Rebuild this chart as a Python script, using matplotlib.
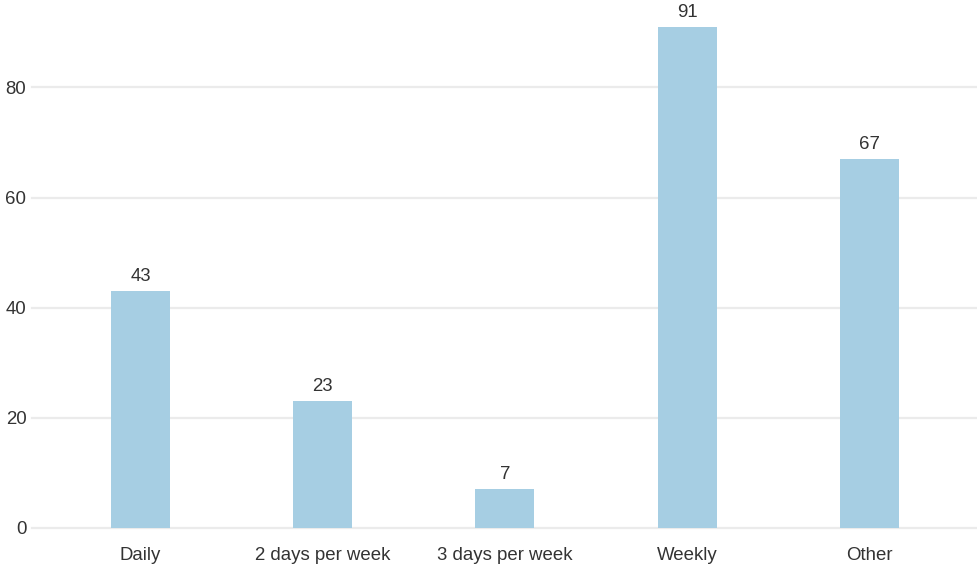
import matplotlib.pyplot as plt

categories = ['Daily', '2 days per week', '3 days per week', 'Weekly', 'Other']
counts = [43, 23, 7, 91, 67]
yticks = [0, 20, 40, 60, 80]

plt.rcParams['font.family'] = ['Liberation Sans', 'DejaVu Sans']

fig = plt.figure(figsize=(9.77, 5.67), dpi=100)
ax = fig.add_axes([32 / 977, 39.3 / 567, 945 / 977, 527.7 / 567])

x = range(len(categories))
bars = ax.bar(x, counts, width=0.324, color='#a6cee3', zorder=2)
for b, v in zip(bars, counts):
    ax.text(b.get_x() + b.get_width() / 2, v + 1.1, str(v),
            ha='center', va='bottom', fontsize=13.4, color='#333333')

ax.set_xlim(-0.595, 4.59)
ax.set_ylim(0, 95.9)
ax.set_xticks(list(x))
ax.set_xticklabels(categories)
ax.set_yticks(yticks)
ax.tick_params(axis='x', length=0, pad=14, labelsize=13.4, labelcolor='#333333')
ax.tick_params(axis='y', length=0, pad=4, labelsize=13.4, labelcolor='#333333')
ax.grid(axis='y', color='#ebebeb', linewidth=1.6, zorder=0)
for gl in ax.get_ygridlines():
    gl.set_clip_on(False)
for s in ax.spines.values():
    s.set_visible(False)

fig.savefig('out.png', dpi=100)
